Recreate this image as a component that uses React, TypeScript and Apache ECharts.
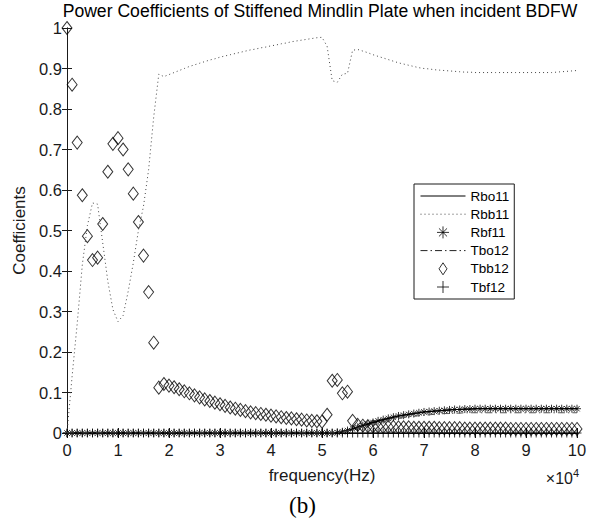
import React, { useEffect, useRef } from "react";
import * as echarts from "echarts";

// frequency samples (Hz)
const frequencyHz = [
  0, 1000, 2000, 3000, 4000, 5000, 6000, 7000, 8000, 9000,
  10000, 11000, 12000, 13000, 14000, 15000, 16000, 17000, 18000, 19000,
  20000, 21000, 22000, 23000, 24000, 25000, 26000, 27000, 28000, 29000,
  30000, 31000, 32000, 33000, 34000, 35000, 36000, 37000, 38000, 39000,
  40000, 41000, 42000, 43000, 44000, 45000, 46000, 47000, 48000, 49000,
  50000, 51000, 52000, 53000, 54000, 55000, 56000, 57000, 58000, 59000,
  60000, 61000, 62000, 63000, 64000, 65000, 66000, 67000, 68000, 69000,
  70000, 71000, 72000, 73000, 74000, 75000, 76000, 77000, 78000, 79000,
  80000, 81000, 82000, 83000, 84000, 85000, 86000, 87000, 88000, 89000,
  90000, 91000, 92000, 93000, 94000, 95000, 96000, 97000, 98000, 99000,
  100000,
];

const rbo11 = [
  0, 0, 0, 0, 0, 0, 0, 0, 0, 0,
  0, 0, 0, 0, 0, 0, 0, 0, 0, 0,
  0, 0, 0, 0, 0, 0, 0, 0, 0, 0,
  0, 0, 0, 0, 0, 0, 0, 0, 0, 0,
  0, 0, 0, 0, 0, 0, 0, 0, 0, 0,
  0, 0, 0, 0.001, 0.003, 0.006, 0.010, 0.014, 0.018, 0.022,
  0.026, 0.030, 0.033, 0.036, 0.039, 0.042, 0.044, 0.046, 0.048, 0.050,
  0.052, 0.053, 0.054, 0.055, 0.056, 0.057, 0.058, 0.058, 0.059, 0.059,
  0.060, 0.060, 0.060, 0.060, 0.060, 0.060, 0.060, 0.060, 0.060, 0.060,
  0.060, 0.060, 0.060, 0.060, 0.060, 0.060, 0.060, 0.060, 0.060, 0.060,
  0.060,
];

const rbb11 = [
  0.000, 0.140, 0.270, 0.415, 0.512, 0.568, 0.565, 0.470, 0.375, 0.305,
  0.275, 0.290, 0.350, 0.420, 0.500, 0.560, 0.650, 0.780, 0.886, 0.880,
  0.885, 0.890, 0.895, 0.900, 0.905, 0.909, 0.913, 0.917, 0.921, 0.924,
  0.928, 0.931, 0.934, 0.937, 0.940, 0.943, 0.946, 0.948, 0.951, 0.953,
  0.956, 0.958, 0.961, 0.963, 0.966, 0.968, 0.970, 0.972, 0.974, 0.976,
  0.977, 0.955, 0.870, 0.866, 0.886, 0.888, 0.945, 0.947, 0.943, 0.939,
  0.934, 0.930, 0.926, 0.922, 0.918, 0.914, 0.911, 0.908, 0.905, 0.902,
  0.900, 0.899, 0.897, 0.896, 0.895, 0.894, 0.893, 0.892, 0.891, 0.891,
  0.890, 0.890, 0.890, 0.890, 0.890, 0.890, 0.890, 0.890, 0.890, 0.890,
  0.890, 0.890, 0.890, 0.890, 0.890, 0.890, 0.891, 0.892, 0.893, 0.894,
  0.895,
];

const rbf11 = [
  0, 0, 0, 0, 0, 0, 0, 0, 0, 0,
  0, 0, 0, 0, 0, 0, 0, 0, 0, 0,
  0, 0, 0, 0, 0, 0, 0, 0, 0, 0,
  0, 0, 0, 0, 0, 0, 0, 0, 0, 0,
  0, 0, 0, 0, 0, 0, 0, 0, 0, 0,
  0, 0, 0, 0.001, 0.003, 0.006, 0.010, 0.014, 0.018, 0.022,
  0.026, 0.030, 0.033, 0.036, 0.039, 0.042, 0.044, 0.046, 0.048, 0.050,
  0.052, 0.053, 0.054, 0.055, 0.056, 0.057, 0.058, 0.058, 0.059, 0.059,
  0.060, 0.060, 0.060, 0.060, 0.060, 0.060, 0.060, 0.060, 0.060, 0.060,
  0.060, 0.060, 0.060, 0.060, 0.060, 0.060, 0.060, 0.060, 0.060, 0.060,
  0.060,
];

const tbo12 = [
  0, 0, 0, 0, 0, 0, 0, 0, 0, 0,
  0, 0, 0, 0, 0, 0, 0, 0, 0, 0,
  0, 0, 0, 0, 0, 0, 0, 0, 0, 0,
  0, 0, 0, 0, 0, 0, 0, 0, 0, 0,
  0, 0, 0, 0, 0, 0, 0, 0, 0, 0,
  0, 0, 0, 0, 0.002, 0.005, 0.008, 0.012, 0.015, 0.019,
  0.022, 0.025, 0.028, 0.031, 0.033, 0.036, 0.038, 0.040, 0.041, 0.043,
  0.044, 0.045, 0.046, 0.047, 0.048, 0.048, 0.049, 0.049, 0.050, 0.050,
  0.050, 0.050, 0.050, 0.050, 0.050, 0.050, 0.050, 0.050, 0.050, 0.050,
  0.050, 0.050, 0.050, 0.050, 0.050, 0.050, 0.050, 0.050, 0.050, 0.050,
  0.050,
];

const tbb12 = [
  1.000, 0.860, 0.717, 0.587, 0.486, 0.427, 0.433, 0.516, 0.645, 0.714,
  0.728, 0.700, 0.651, 0.591, 0.521, 0.438, 0.348, 0.223, 0.112, 0.121,
  0.117, 0.113, 0.108, 0.103, 0.098, 0.093, 0.088, 0.083, 0.079, 0.075,
  0.071, 0.067, 0.063, 0.060, 0.057, 0.054, 0.051, 0.049, 0.047, 0.045,
  0.043, 0.041, 0.039, 0.037, 0.036, 0.034, 0.033, 0.031, 0.030, 0.029,
  0.028, 0.045, 0.129, 0.131, 0.098, 0.102, 0.030, 0.020, 0.018, 0.017,
  0.016, 0.016, 0.015, 0.015, 0.015, 0.014, 0.014, 0.014, 0.013, 0.013,
  0.013, 0.013, 0.013, 0.012, 0.012, 0.012, 0.012, 0.012, 0.011, 0.011,
  0.011, 0.011, 0.011, 0.011, 0.011, 0.011, 0.011, 0.010, 0.010, 0.010,
  0.010, 0.010, 0.010, 0.010, 0.010, 0.010, 0.010, 0.010, 0.010, 0.010,
  0.010,
];

const tbf12 = [
  0, 0, 0, 0, 0, 0, 0, 0, 0, 0,
  0, 0, 0, 0, 0, 0, 0, 0, 0, 0,
  0, 0, 0, 0, 0, 0, 0, 0, 0, 0,
  0, 0, 0, 0, 0, 0, 0, 0, 0, 0,
  0, 0, 0, 0, 0, 0, 0, 0, 0, 0,
  0, 0, 0, 0, 0, 0, 0, 0, 0, 0,
  0, 0, 0, 0, 0, 0, 0, 0, 0, 0,
  0, 0, 0, 0, 0, 0, 0, 0, 0, 0,
  0, 0, 0, 0, 0, 0, 0, 0, 0, 0,
  0, 0, 0, 0, 0, 0, 0, 0, 0, 0,
  0,
];

const seriesNames = ["Rbo11", "Rbb11", "Rbf11", "Tbo12", "Tbb12", "Tbf12"];
const titleText = "Power Coefficients of Stiffened Mindlin Plate when incident BDFW";
const xAxisName = "frequency(Hz)";
const yAxisName = "Coefficients";
const panelLabel = "(b)";

const FONT = "'Liberation Sans', Arial, Helvetica, sans-serif";
const INK = "#1a1a1a";
const CLEAR = "rgba(0,0,0,0)";

const ASTERISK = "path://M4,0L4,8M0,4L8,4M1.3,1.3L6.7,6.7M1.3,6.7L6.7,1.3";
const PLUS = "path://M4,0L4,8M0,4L8,4";
const DIAMOND = "path://M4,0L8,6L4,12L0,6Z";

const pairs = (ys: number[]) => frequencyHz.map((f, i) => [f, ys[i]]);

const hollow = { color: CLEAR, borderColor: "#000", borderWidth: 1 };
const noMarker = { color: CLEAR, borderColor: CLEAR, borderWidth: 0 };

export default function App() {
  const ref = useRef<HTMLDivElement>(null);
  useEffect(() => {
    const chart = echarts.init(ref.current!, null, { renderer: "svg" });
    const commonAxis = {
      axisLine: { show: true, lineStyle: { color: INK, width: 1 } },
      axisTick: { show: true, inside: true, length: 5, lineStyle: { color: INK } },
      splitLine: { show: false },
    };
    chart.setOption({
      animation: false,
      backgroundColor: "#fff",
      grid: { left: 67, right: 25, top: 28, bottom: 87, containLabel: false },
      legend: {
        orient: "vertical",
        left: 414,
        top: 184,
        itemWidth: 45,
        itemHeight: 12,
        itemGap: 4.2,
        padding: [5, 5, 5, 6],
        borderColor: INK,
        borderWidth: 1,
        backgroundColor: "#fff",
        symbolKeepAspect: true,
        textStyle: { fontFamily: FONT, fontSize: 13.5, color: "#000", lineHeight: 13.5 },
        data: [
          { name: seriesNames[0], itemStyle: noMarker, lineStyle: { color: "#000", width: 1, type: "solid" } },
          { name: seriesNames[1], itemStyle: noMarker, lineStyle: { color: "#444", width: 1, type: [1, 3] } },
          { name: seriesNames[2], icon: ASTERISK, itemStyle: hollow },
          { name: seriesNames[3], itemStyle: noMarker, lineStyle: { color: "#222", width: 1, type: [7, 3, 1.5, 3] } },
          { name: seriesNames[4], icon: DIAMOND, itemStyle: hollow },
          { name: seriesNames[5], icon: PLUS, itemStyle: hollow },
        ],
      },
      xAxis: [
        {
          type: "value",
          min: 0,
          max: 100000,
          interval: 10000,
          position: "bottom",
          ...commonAxis,
          axisLabel: {
            fontFamily: FONT,
            fontSize: 16.5,
            color: INK,
            margin: 8,
            formatter: (v: number) => String(Math.round(v / 10000)),
          },
          name: xAxisName,
          nameLocation: "middle",
          nameGap: 34,
          nameTextStyle: { fontFamily: FONT, fontSize: 17, color: INK },
        },
        {
          type: "value",
          min: 0,
          max: 100000,
          interval: 10000,
          position: "top",
          ...commonAxis,
          axisLabel: { show: false },
        },
      ],
      yAxis: [
        {
          type: "value",
          min: 0,
          max: 1,
          interval: 0.1,
          position: "left",
          ...commonAxis,
          axisLabel: {
            fontFamily: FONT,
            fontSize: 16.5,
            color: INK,
            margin: 5,
            formatter: (v: number) => String(Math.round(v * 10) / 10),
          },
          name: yAxisName,
          nameLocation: "middle",
          nameGap: 36,
          nameTextStyle: { fontFamily: FONT, fontSize: 17, color: INK },
        },
        {
          type: "value",
          min: 0,
          max: 1,
          interval: 0.1,
          position: "right",
          ...commonAxis,
          axisLabel: { show: false },
        },
      ],
      series: [
        {
          name: seriesNames[0],
          type: "line",
          data: pairs(rbo11),
          symbol: "none",
          lineStyle: { color: "#000", width: 1.2, type: "solid" },
          itemStyle: noMarker,
        },
        {
          name: seriesNames[1],
          type: "line",
          data: pairs(rbb11),
          symbol: "none",
          lineStyle: { color: "#444", width: 1, type: [1, 3] },
          itemStyle: noMarker,
        },
        {
          name: seriesNames[2],
          type: "scatter",
          data: pairs(rbf11),
          symbol: ASTERISK,
          symbolSize: 8,
          itemStyle: hollow,
        },
        {
          name: seriesNames[3],
          type: "line",
          data: pairs(tbo12),
          symbol: "none",
          lineStyle: { color: "#555", width: 1, type: [7, 3, 1.5, 3] },
          itemStyle: noMarker,
        },
        {
          name: seriesNames[4],
          type: "scatter",
          data: pairs(tbb12),
          symbol: "diamond",
          symbolSize: [10, 13],
          itemStyle: hollow,
        },
        {
          name: seriesNames[5],
          type: "scatter",
          data: pairs(tbf12),
          symbol: PLUS,
          symbolSize: 9,
          itemStyle: hollow,
        },
      ],
      graphic: [
        {
          type: "text",
          x: 320,
          y: 2,
          style: {
            text: titleText,
            fontFamily: FONT,
            fontSize: 17.6,
            fill: "#000",
            align: "center",
            verticalAlign: "top",
          },
        },
        {
          type: "text",
          right: 29,
          top: 470,
          style: { text: "×10", fontFamily: FONT, fontSize: 16, fill: INK },
        },
        {
          type: "text",
          left: 573,
          top: 467,
          style: { text: "4", fontFamily: FONT, fontSize: 11, fill: INK },
        },
        {
          type: "text",
          left: 289,
          top: 494,
          style: { text: panelLabel, fontFamily: "'Liberation Serif', 'Times New Roman', serif", fontSize: 23, fill: "#000" },
        },
      ],
    });
    return () => chart.dispose();
  }, []);
  return (
    <div
      ref={ref}
      style={{ position: "fixed", left: 0, top: 0, width: 602, height: 520, background: "#fff" }}
    />
  );
}
